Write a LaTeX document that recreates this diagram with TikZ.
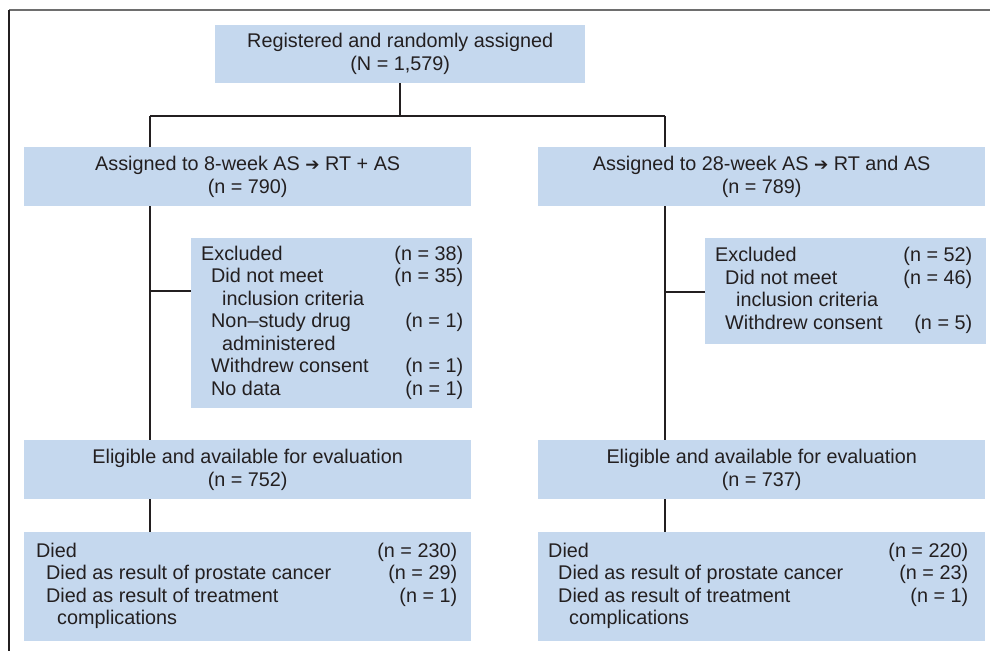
\documentclass[tikz,border=0pt]{standalone}
\usepackage{fontspec}
\setmainfont{Liberation Sans}
\newfontfamily\symfont{DejaVu Sans}
\usepackage{xcolor}
\definecolor{BoxFill}{RGB}{197,216,238}
\definecolor{InkDark}{RGB}{35,31,32}
\definecolor{FrameGray}{RGB}{110,110,110}
\usetikzlibrary{positioning,backgrounds}
\newcommand{\thento}{{\fontsize{17}{17}\selectfont\symfont\char"2794}}
\newcommand{\ia}{\hspace*{10pt}}
\newcommand{\ib}{\hspace*{21pt}}
% #1 box width, #2 left pad, #3 right pad, #4 rows
\newcommand{\countlist}[4]{%
  \begin{tabular*}{#1}{@{\hspace{#2}}l@{\extracolsep{\fill}}r@{\hspace{#3}}}#4\end{tabular*}}
\tikzset{
  % centred stage box
  stage/.style={
    fill=BoxFill,
    text=InkDark,
    inner sep=0pt,
    align=center,
    anchor=north west,
    font=\fontsize{19.8}{23}\selectfont,
    execute at begin node={\rule{0pt}{25pt}}
  },
  % box listing counts
  listbox/.style={
    fill=BoxFill,
    text=InkDark,
    inner sep=0pt,
    anchor=north west,
    font=\fontsize{19.8}{22.5}\selectfont
  },
  % connector
  link/.style={
    draw=InkDark,
    line width=2.5pt
  }
}

\begin{document}
\begin{tikzpicture}[x=1pt,y=-1pt]
  \useasboundingbox (0,0) rectangle (990,651);
  % frame
  \draw[FrameGray, line width=2pt] (9,10) -- (990,10);
  \draw[InkDark, line width=1.5pt] (9,10) -- (9,651);

  % boxes
  \node[stage, minimum width=370pt, minimum height=58pt] (reg) at (215,25)
    {Registered and randomly assigned\\(N = 1,579)};
  \node[stage, minimum width=447pt, minimum height=59pt] (armL) at (24,147)
    {Assigned to 8-week AS \thento{} RT + AS\\(n = 790)};
  \node[stage, minimum width=447pt, minimum height=59pt] (armR) at (538,147)
    {Assigned to 28-week AS \thento{} RT and AS\\(n = 789)};
  \node[listbox, minimum height=170pt] (exL) at (191,238)
    {\countlist{281pt}{10pt}{9pt}{%
      Excluded & (n = 38)\\
      \ia Did not meet & (n = 35)\\
      \ib inclusion criteria & \\
      \ia Non–study drug & (n = 1)\\
      \ib administered & \\
      \ia Withdrew consent & (n = 1)\\
      \ia No data & (n = 1)\\}};
  \node[listbox, minimum height=106pt] (exR) at (705,238)
    {\countlist{281pt}{10pt}{14pt}{%
      Excluded & (n = 52)\\
      \ia Did not meet & (n = 46)\\
      \ib inclusion criteria & \\
      \ia Withdrew consent & (n = 5)\\}};
  \node[stage, minimum width=447pt, minimum height=59pt] (evalL) at (24,440)
    {Eligible and available for evaluation\\(n = 752)};
  \node[stage, minimum width=447pt, minimum height=59pt] (evalR) at (538,440)
    {Eligible and available for evaluation\\(n = 737)};
  \node[listbox, minimum height=109pt] (diedL) at (24,532)
    {\countlist{447pt}{12pt}{14pt}{%
      Died & (n = 230)\\
      \ia Died as result of prostate cancer & (n = 29)\\
      \ia Died as result of treatment & (n = 1)\\
      \ib complications & \\}};
  \node[listbox, minimum height=109pt] (diedR) at (538,532)
    {\countlist{447pt}{10pt}{17pt}{%
      Died & (n = 220)\\
      \ia Died as result of prostate cancer & (n = 23)\\
      \ia Died as result of treatment & (n = 1)\\
      \ib complications & \\}};

  % connectors
  \coordinate (forkL) at (150,116);
  \coordinate (forkR) at (665,116);
  \coordinate (brL) at (150,291);
  \coordinate (brR) at (665,292);
  \begin{scope}[on background layer]
    \draw[link] (reg.south) -- (reg.south |- forkL);
    \draw[link] (forkL) -- (forkR);
    \draw[link] (forkL) -- (forkL |- diedL.north);
    \draw[link] (forkR) -- (forkR |- diedR.north);
    \draw[link] (brL) -- (brL -| exL.west);
    \draw[link] (brR) -- (brR -| exR.west);
  \end{scope}
\end{tikzpicture}
\end{document}
